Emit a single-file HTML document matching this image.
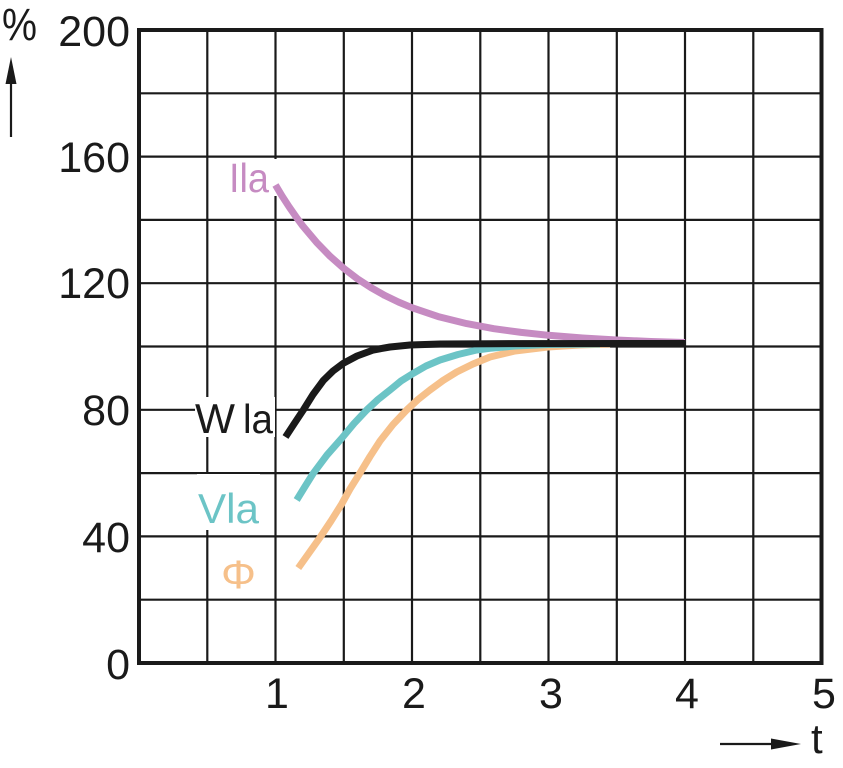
<!DOCTYPE html>
<html><head><meta charset="utf-8"><style>
html,body{margin:0;padding:0;background:#fff;}
svg{display:block;}
text{font-family:"Liberation Sans",Arial,sans-serif;}
</style></head><body>
<svg width="843" height="768" viewBox="0 0 843 768" xmlns="http://www.w3.org/2000/svg">
<rect width="843" height="768" fill="#fff"/>
<!-- grid -->
<g stroke="#1a1a1a" stroke-width="2.2" fill="none">
<line x1="207.3" y1="30" x2="207.3" y2="663"/>
<line x1="275.5" y1="30" x2="275.5" y2="663"/>
<line x1="343.8" y1="30" x2="343.8" y2="663"/>
<line x1="412" y1="30" x2="412" y2="663"/>
<line x1="480.3" y1="30" x2="480.3" y2="663"/>
<line x1="548.5" y1="30" x2="548.5" y2="663"/>
<line x1="616.8" y1="30" x2="616.8" y2="663"/>
<line x1="685" y1="30" x2="685" y2="663"/>
<line x1="753.3" y1="30" x2="753.3" y2="663"/>
<line x1="139" y1="93.3" x2="821.5" y2="93.3"/>
<line x1="139" y1="156.6" x2="821.5" y2="156.6"/>
<line x1="139" y1="219.9" x2="821.5" y2="219.9"/>
<line x1="139" y1="283.2" x2="821.5" y2="283.2"/>
<line x1="139" y1="346.5" x2="821.5" y2="346.5"/>
<line x1="139" y1="409.8" x2="821.5" y2="409.8"/>
<line x1="139" y1="473.1" x2="821.5" y2="473.1"/>
<line x1="139" y1="536.4" x2="821.5" y2="536.4"/>
<line x1="139" y1="599.7" x2="821.5" y2="599.7"/>
</g>
<rect x="139" y="30" width="682.5" height="633" fill="none" stroke="#1a1a1a" stroke-width="4"/>

<!-- label background boxes -->
<rect x="222" y="159" width="55" height="37" fill="#fff"/>
<rect x="195" y="397" width="80" height="40" fill="#fff"/>
<rect x="197" y="474" width="63" height="56" fill="#fff"/>

<!-- curves -->
<g fill="none" stroke-width="7" stroke-linejoin="round" stroke-linecap="butt">
<polyline stroke="#c68bc2" points="275.5,185 282.3,196.4 289.2,207 296,216.8 302.8,226 316.5,242.3 330.1,256.3 343.8,268.4 357.4,278.8 371.1,287.7 384.7,295.4 398.4,302 412,307.7 439.3,316.9 466.6,323.6 493.9,328.7 521.2,332.4 548.5,335.3 582.6,338 616.8,340 650.9,341.5 685,342.5"/>
<polyline stroke="#f6c08a" points="298.3,568 309,553 320,537.5 331,521 341.7,504 350,489 360,473 370,456.5 380,441 393,424.5 406.7,410 418,399.5 430,390 443,380.5 456.7,372 473,364 490,357 515,351 548,347 580,345 610,344"/>
<polyline stroke="#6cc4c6" points="296.7,500 305,486.5 313.3,473.3 327,455 341.7,438.3 354,423.5 366.7,410 378,399.5 390,390 401,381 413.3,373.3 426,366 440,360 458,354.5 476.7,350 490,348.3 515,346 548,344.5 600,344"/>
<polyline stroke="#1a1a1a" points="285.5,437 294,424 303.3,410 313,394.5 323.3,380.5 333,371 343.3,363.3 357,356 373.3,350 390,347 410,345 440,344 490,343.7 685,343.5"/>
</g>

<!-- axis tick labels -->
<g font-size="43" fill="#1a1a1a" text-anchor="end">
<text x="130" y="46">200</text>
<text x="130" y="172">160</text>
<text x="130" y="298">120</text>
<text x="130" y="425">80</text>
<text x="130" y="552">40</text>
<text x="130" y="679">0</text>
</g>
<g font-size="43" fill="#1a1a1a" text-anchor="middle">
<text x="277" y="708">1</text>
<text x="414" y="708">2</text>
<text x="551" y="708">3</text>
<text x="687" y="708">4</text>
<text x="824" y="708">5</text>
</g>

<!-- axis unit labels and arrows -->
<text x="2" y="40" font-size="45" fill="#1a1a1a" textLength="35" lengthAdjust="spacingAndGlyphs">%</text>
<line x1="11" y1="80" x2="11" y2="137" stroke="#1a1a1a" stroke-width="2.2"/>
<polygon points="11,57 5.5,84 16.5,84" fill="#1a1a1a"/>
<text x="811" y="753" font-size="42" fill="#1a1a1a">t</text>
<line x1="720" y1="744" x2="775" y2="744" stroke="#1a1a1a" stroke-width="2.2"/>
<polygon points="801,744 771,738.5 771,749.5" fill="#1a1a1a"/>

<!-- series labels -->
<text x="229" y="192" font-size="41" fill="#c68bc2" textLength="40" lengthAdjust="spacingAndGlyphs">Ila</text>
<text x="195" y="433" font-size="42" fill="#1a1a1a" textLength="40" lengthAdjust="spacingAndGlyphs">W</text>
<text x="243" y="433" font-size="41" fill="#1a1a1a" textLength="30" lengthAdjust="spacingAndGlyphs">la</text>
<text x="198" y="523" font-size="42" fill="#6cc4c6" textLength="61" lengthAdjust="spacingAndGlyphs">Vla</text>
<text x="221" y="588" font-size="40" fill="#f6c08a" textLength="35" lengthAdjust="spacingAndGlyphs">Φ</text>
</svg>
</body></html>
